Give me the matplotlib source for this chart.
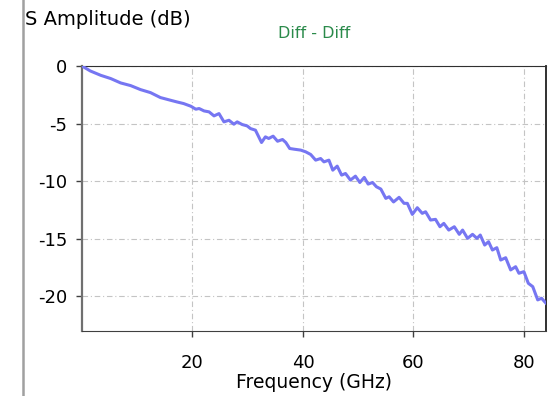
import matplotlib.pyplot as plt
from matplotlib.lines import Line2D

# 读出的曲线数据 (GHz, dB)
freq = [0, 1.5, 3.4, 5.2, 7.0, 8.8, 10.6, 12.4, 14.2, 16.0,
        17.2, 18.4, 19.7, 20.6, 21.2, 22.1, 23.0, 23.9, 24.8, 25.7,
        26.6, 27.5, 28.1, 29.0, 29.9, 30.5, 31.4, 32.5, 33.2, 33.8,
        34.6, 35.4, 36.3, 36.9, 37.6, 38.4, 39.6, 40.5, 41.4, 42.3,
        43.2, 43.8, 44.7, 45.4, 46.2, 47.0, 47.7, 48.6, 49.5, 50.3,
        51.1, 51.8, 52.6, 53.3, 54.1, 55.0, 55.6, 56.4, 57.4, 58.3,
        58.9, 59.8, 60.7, 61.6, 62.2, 63.1, 64.0, 64.8, 65.5, 66.4,
        67.4, 68.3, 68.9, 69.8, 70.7, 71.5, 72.1, 72.9, 73.6, 74.3,
        75.1, 75.8, 76.7, 77.6, 78.5, 79.1, 80.0, 80.8, 81.6, 82.5,
        83.2, 84.0]
s_db = [0, -0.43, -0.81, -1.09, -1.47, -1.70, -2.05, -2.31, -2.74, -2.97,
        -3.12, -3.26, -3.49, -3.75, -3.69, -3.90, -3.98, -4.33, -4.13, -4.85,
        -4.71, -5.05, -4.85, -5.08, -5.20, -5.43, -5.57, -6.64, -6.15, -6.29,
        -6.09, -6.53, -6.38, -6.64, -7.16, -7.22, -7.30, -7.45, -7.68, -8.17,
        -8.03, -8.32, -8.17, -9.04, -8.69, -9.47, -9.33, -9.90, -9.56, -10.11,
        -9.67, -10.25, -10.11, -10.48, -10.68, -11.49, -11.35, -11.80, -11.40, -11.92,
        -11.92, -12.88, -12.30, -12.79, -12.65, -13.37, -13.31, -13.95, -13.66, -14.24,
        -13.95, -14.61, -14.24, -14.96, -14.61, -14.96, -14.67, -15.54, -15.25, -15.97,
        -15.77, -16.84, -16.64, -17.70, -17.42, -17.99, -17.85, -18.86, -19.15, -20.30,
        -20.16, -20.59]

x_ticks = [20, 40, 60, 80]
y_ticks = [0, -5, -10, -15, -20]

title = 'Diff - Diff'
x_label = 'Frequency (GHz)'
y_label = 'S Amplitude (dB)'

W, H = 554, 396
fig = plt.figure(figsize=(W / 100, H / 100), dpi=100)
ax = fig.add_axes([82 / W, 1 - 331 / H, (546 - 82) / W, (331 - 66) / H])

ax.plot(freq, s_db, color='#7676f2', lw=2.2, solid_joinstyle='round', zorder=3)

ax.set_xlim(0, 84)
ax.set_ylim(-23, 0)
ax.set_xticks(x_ticks)
ax.set_yticks(y_ticks)
ax.set_xticklabels([str(t) for t in x_ticks])
ax.set_yticklabels([str(t) for t in y_ticks])

# 网格：点划线
ax.grid(True, color='#c4c4c4', lw=0.8, linestyle=(0, (5, 2.5, 1, 2.5)))
ax.tick_params(axis='both', direction='out', length=4.5, width=1,
               color='#404040', labelsize=13, labelcolor='black')
ax.tick_params(axis='x', pad=12)
ax.tick_params(axis='y', pad=6)

ax.spines['left'].set_color('#707070')
ax.spines['left'].set_linewidth(1.6)
ax.spines['bottom'].set_color('#404040')
ax.spines['top'].set_color('#303030')
ax.spines['right'].set_color('#202020')
ax.spines['right'].set_linewidth(1.3)

fig.text(314 / W, 1 - 33 / H, title, color='#2a8a4a', fontsize=11.5,
         ha='center', va='center')
fig.text(25 / W, 1 - 25 / H, y_label, fontsize=14, ha='left', va='baseline')
fig.text(314 / W, 1 - 382 / H, x_label, fontsize=13.5, ha='center', va='center')

# 左侧灰色竖线
fig.add_artist(Line2D([23 / W, 23 / W], [0, 1], color='#a0a0a0', lw=1.8,
                      transform=fig.transFigure))

fig.savefig('out.png', dpi=100)
